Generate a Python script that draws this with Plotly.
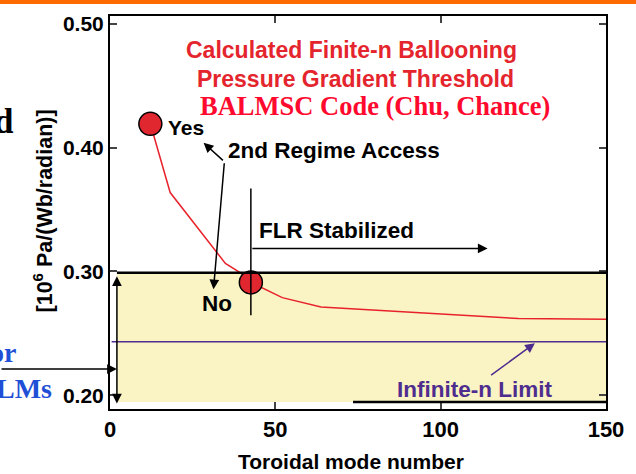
import plotly.graph_objects as go

# ---- data ----
n_modes = [12.2, 18.2, 34.9, 39.7, 42.6, 52.1, 63.8, 123.5, 150.0]
threshold = [0.4192, 0.3637, 0.3065, 0.2985, 0.2912, 0.2789, 0.2713, 0.2620, 0.2614]
marker_n = [12.2, 42.6]
marker_thr = [0.4192, 0.2912]
infinite_n_limit = 0.2432
band_low, band_high = 0.1946, 0.299
x_ticks = [0, 50, 100, 150]
y_ticks = [0.20, 0.30, 0.40, 0.50]
y_tick_text = ["0.20", "0.30", "0.40", "0.50"]

SANS = "Liberation Sans, Arial, sans-serif"
SERIF = "Liberation Serif, Times New Roman, serif"
RED = "#E5252D"
PURPLE = "#4E2D8E"
BLUE = "#1F4FD6"

fig = go.Figure()
fig.add_trace(go.Scatter(x=n_modes, y=threshold, mode="lines",
                         line=dict(color="#E8222B", width=1.5), showlegend=False))
fig.add_trace(go.Scatter(x=marker_n, y=marker_thr, mode="markers",
                         marker=dict(size=23, color="#E0262F", line=dict(color="black", width=1.5)),
                         showlegend=False))

shapes = [
    dict(type="rect", xref="x", yref="y", x0=2.1, x1=150, y0=band_low, y1=band_high,
         fillcolor="#FAF3C4", line=dict(width=0), layer="below"),
    dict(type="line", xref="x", yref="y", x0=2.1, x1=150, y0=band_high, y1=band_high,
         line=dict(color="black", width=2.5)),
    dict(type="line", xref="x", yref="y", x0=73.5, x1=150, y0=band_low, y1=band_low,
         line=dict(color="black", width=2.5)),
    dict(type="line", xref="x", yref="y", x0=0.5, x1=150, y0=infinite_n_limit, y1=infinite_n_limit,
         line=dict(color=PURPLE, width=1.5)),
    dict(type="line", xref="x", yref="y", x0=42.6, x1=42.6, y0=0.2647, y1=0.3669,
         line=dict(color="black", width=1.5)),
    dict(type="rect", xref="paper", yref="paper", x0=-0.3, x1=1.1, y0=1.0305, y1=1.08,
         fillcolor="#FF6A00", line=dict(width=0)),
]

def arrow(x, y, ax, ay, color="black", side="end", xref="x", axref="x", ayref="y"):
    return dict(x=x, y=y, ax=ax, ay=ay, xref=xref, yref="y", axref=axref, ayref=ayref,
                text="", showarrow=True, arrowhead=2, arrowsize=1.3, arrowwidth=1.5,
                arrowcolor=color, arrowside=side, standoff=0, startstandoff=0)

def label(text, x, y, size, color="black", family=SANS, xanchor="center", xref="x", yref="y", angle=0):
    return dict(text="<b>%s</b>" % text, x=x, y=y, xref=xref, yref=yref, showarrow=False,
                xanchor=xanchor, yanchor="middle", textangle=angle,
                font=dict(family=family, size=size, color=color))

annotations = [
    label("Calculated Finite-n Ballooning", 0.487, 0.4788, 23, RED, xref="paper"),
    label("Pressure Gradient Threshold", 0.495, 0.4555, 23, RED, xref="paper"),
    label("BALMSC Code (Chu, Chance)", 0.535, 0.4337, 26.5, "#FF0A2E", family=SERIF, xref="paper"),
    label("Yes", 17.0, 0.416, 21, xanchor="left"),
    label("2nd Regime Access", 35.2, 0.3975, 22.5, xanchor="left"),
    label("No", 32.5, 0.2743, 22.5),
    label("FLR Stabilized", 44.4, 0.3331, 22.5, xanchor="left"),
    label("Infinite-n Limit", 110.2, 0.2051, 22.5, PURPLE),
    arrow(28.3, 0.4039, 34.6, 0.3886),
    arrow(31.3, 0.2856, 34.6, 0.3886),
    arrow(114.2, 0.3186, 42.6, 0.3186),
    arrow(128.5, 0.2421, 114.8, 0.2155, color=PURPLE),
    arrow(2.09, 0.2961, 2.09, 0.1922, side="end+start"),
    arrow(0.0139, 0.2212, -117, 0, xref="paper", axref="pixel", ayref="pixel"),
    label("or", -0.1849, 0.2349, 28, BLUE, family=SERIF, xanchor="right", xref="paper"),
    label("LMs", -0.1133, 0.2059, 28, BLUE, family=SERIF, xanchor="right", xref="paper"),
    label("d", -0.1889, 0.4209, 35, "black", family=SERIF, xanchor="right", xref="paper"),
    label("[10<sup>6</sup> Pa/(Wb/radian)]", -0.1352, 0.505, 21.5, xref="paper", yref="paper", angle=-90),
    label("Toroidal mode number", 0.485, -0.1345, 21, xref="paper", yref="paper"),
]

fig.update_layout(
    width=636, height=474,
    margin=dict(l=110, r=23, t=15, b=65),
    paper_bgcolor="white", plot_bgcolor="white",
    shapes=shapes, annotations=annotations,
    xaxis=dict(range=[0, 150], tickvals=x_ticks, ticks="inside", ticklen=7, tickwidth=1.5,
               showline=True, linecolor="black", linewidth=2, mirror="ticks", showgrid=False,
               zeroline=False, tickfont=dict(family=SANS, size=22, color="black", weight="bold")),
    yaxis=dict(range=[0.1890, 0.5062], tickvals=y_ticks, ticktext=y_tick_text,
               ticks="inside", ticklen=7, tickwidth=1.5,
               showline=True, linecolor="black", linewidth=2, mirror="ticks", showgrid=False,
               zeroline=False, tickfont=dict(family=SANS, size=21, color="black", weight="bold")),
)
fig.write_html("out.html")
